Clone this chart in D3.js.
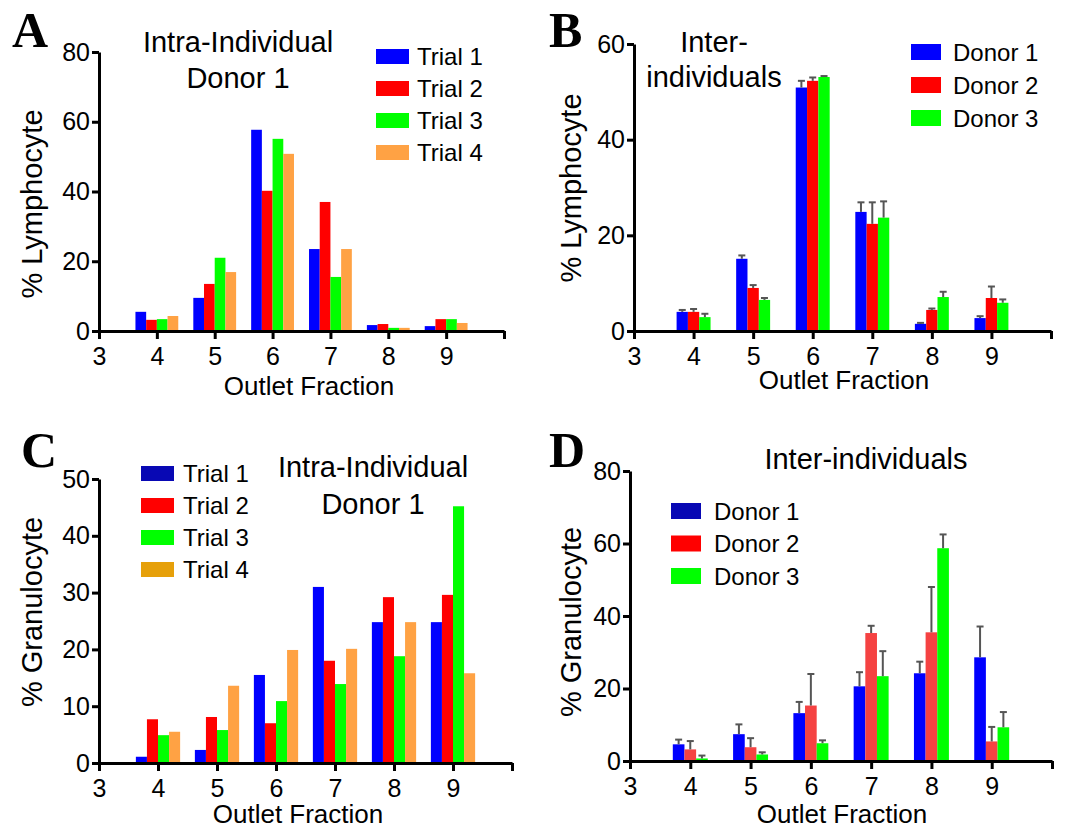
<!DOCTYPE html>
<html>
<head>
<meta charset="utf-8">
<script src="https://cdn.jsdelivr.net/npm/d3@7"></script>
<style>
  html, body { margin: 0; padding: 0; background: #ffffff; }
  svg { display: block; font-family: "Liberation Sans", Arial, Helvetica, sans-serif; }
</style>
</head>
<body>
<svg id="chart" width="1078" height="828"></svg>
<script>
// ---------- data ----------
const fractions = [4, 5, 6, 7, 8, 9];
const xTicks = [3, 4, 5, 6, 7, 8, 9, 10];
const trialNames = ["Trial 1", "Trial 2", "Trial 3", "Trial 4"];
const donorNames = ["Donor 1", "Donor 2", "Donor 3"];

// A: lymphocyte, intra-individual (donor 1), four trials
const lymphTrial1 = [5.5, 9.5, 57.7, 23.5, 1.7, 1.4];
const lymphTrial2 = [3.2, 13.5, 40.2, 37.0, 2.0, 3.4];
const lymphTrial3 = [3.4, 21.0, 55.1, 15.5, 0.9, 3.4];
const lymphTrial4 = [4.3, 16.9, 50.8, 23.5, 0.9, 2.3];

// B: lymphocyte, inter-individual, three donors (mean, error)
const lymphDonor1 = [4.0, 15.1, 50.9, 24.9, 1.5, 2.7];
const lymphDonor1Err = [0.4, 0.7, 1.4, 2.0, 0.2, 0.4];
const lymphDonor2 = [4.0, 9.0, 52.3, 22.4, 4.4, 6.9];
const lymphDonor2Err = [0.6, 0.6, 0.7, 4.5, 0.3, 2.4];
const lymphDonor3 = [2.9, 6.5, 53.1, 23.7, 7.1, 5.9];
const lymphDonor3Err = [0.7, 0.4, 0.2, 3.4, 1.1, 0.7];

// C: granulocyte, intra-individual (donor 1), four trials
const granTrial1 = [1.1, 2.3, 15.5, 31.0, 24.8, 24.8];
const granTrial2 = [7.7, 8.1, 7.0, 18.0, 29.2, 29.6];
const granTrial3 = [4.9, 5.8, 10.9, 13.9, 18.8, 45.2];
const granTrial4 = [5.5, 13.6, 19.9, 20.1, 24.8, 15.8];

// D: granulocyte, inter-individual, three donors (mean, error)
const granDonor1 = [4.6, 7.4, 13.2, 20.6, 24.2, 28.6];
const granDonor1Err = [1.3, 2.7, 3.1, 3.9, 3.2, 8.5];
const granDonor2 = [3.2, 3.8, 15.3, 35.3, 35.5, 5.4];
const granDonor2Err = [2.3, 2.5, 8.7, 2.0, 12.5, 4.0];
const granDonor3 = [0.7, 1.8, 4.9, 23.4, 58.7, 9.3];
const granDonor3Err = [0.8, 0.6, 0.8, 6.9, 3.8, 4.2];

const yTicksA = [0, 20, 40, 60, 80];
const yTicksB = [0, 20, 40, 60];
const yTicksC = [0, 10, 20, 30, 40, 50];
const yTicksD = [0, 20, 40, 60, 80];

// ---------- drawing ----------
const svg = d3.select("#chart");
const FONT = '"Liberation Sans", Arial, Helvetica, sans-serif';
const SERIF = '"Liberation Serif", "Times New Roman", Times, serif';

function drawPanel(cfg) {
  const g = svg.append("g");
  const x = d3.scaleLinear().domain([3, 10]).range([cfg.x0, cfg.x1]);
  const y = d3.scaleLinear().domain([0, cfg.yMax]).range([cfg.y0, cfg.yTop]);
  const n = cfg.series.length;
  const unit = x(1) - x(0);
  const sub = d3.scaleBand().domain(d3.range(n))
    .range([-cfg.groupWidth * unit / 2, cfg.groupWidth * unit / 2]).padding(0);
  const bw = sub.bandwidth();

  cfg.series.forEach((s, i) => {
    const sg = g.append("g");
    sg.selectAll("rect").data(s.values).join("rect")
      .attr("x", (d, j) => x(fractions[j]) + sub(i))
      .attr("width", bw)
      .attr("y", d => y(d))
      .attr("height", d => y(0) - y(d))
      .attr("fill", s.color);
    if (s.err) {
      const eg = g.append("g").attr("stroke", "#555").attr("stroke-width", 2);
      s.values.forEach((v, j) => {
        const cx = x(fractions[j]) + sub(i) + bw / 2;
        eg.append("line").attr("x1", cx).attr("x2", cx)
          .attr("y1", y(v)).attr("y2", y(v + s.err[j]));
        eg.append("line").attr("x1", cx - 3.5).attr("x2", cx + 3.5)
          .attr("y1", y(v + s.err[j])).attr("y2", y(v + s.err[j]));
      });
    }
  });

  // axes
  const xa = g.append("g").attr("transform", `translate(0,${cfg.y0})`)
    .call(d3.axisBottom(x).tickValues(xTicks)
      .tickFormat(d => d === 10 ? "" : d3.format("d")(d))
      .tickSize(8).tickPadding(8).tickSizeOuter(0));
  const ya = g.append("g").attr("transform", `translate(${cfg.x0},0)`)
    .call(d3.axisLeft(y).tickValues(cfg.yTicks)
      .tickSize(7).tickPadding(2).tickSizeOuter(0));
  [xa, ya].forEach(a => {
    a.attr("font-family", FONT).attr("font-size", 25);
    a.select(".domain").attr("stroke", "#000").attr("stroke-width", 3);
    a.selectAll(".tick line").attr("stroke", "#000").attr("stroke-width", 3);
    a.selectAll(".tick text").attr("fill", "#000");
  });

  // axis titles
  g.append("text").attr("x", cfg.xLabelX).attr("y", cfg.xLabelY)
    .attr("text-anchor", "middle").attr("font-size", 26).text("Outlet Fraction");
  g.append("text")
    .attr("transform", `translate(${cfg.yLabelX},${cfg.yLabelY}) rotate(-90)`)
    .attr("text-anchor", "middle").attr("font-size", 29).text(cfg.yLabel);

  // panel title
  cfg.title.forEach((t, k) => {
    g.append("text").attr("x", cfg.titleX).attr("y", cfg.titleY[k])
      .attr("text-anchor", "middle").attr("font-size", 29).text(t);
  });

  // panel letter
  g.append("text").attr("x", cfg.letterX).attr("y", cfg.letterY)
    .style("font-family", SERIF)
    .attr("font-weight", "bold").attr("font-size", 50).text(cfg.letter);

  // legend
  const lg = g.append("g");
  cfg.series.forEach((s, i) => {
    const ty = cfg.legY + i * cfg.legStep;
    lg.append("rect").attr("x", cfg.legX).attr("y", ty)
      .attr("width", cfg.swW).attr("height", cfg.swH)
      .attr("fill", s.legendColor || s.color);
    lg.append("text").attr("x", cfg.legX + cfg.swW + cfg.legGap).attr("y", ty + cfg.swH / 2 + 8.5)
      .attr("font-size", 24).text(s.name);
  });
}

const BLUE = "#0000ff", RED = "#ff0000", GREEN = "#00ff00", ORANGE = "#ffa244";

drawPanel({
  letter: "A", letterX: 12, letterY: 47,
  x0: 99, x1: 504, y0: 331, yTop: 52, yMax: 80, yTicks: yTicksA,
  groupWidth: 0.74,
  series: [
    { name: trialNames[0], values: lymphTrial1, color: BLUE },
    { name: trialNames[1], values: lymphTrial2, color: RED },
    { name: trialNames[2], values: lymphTrial3, color: GREEN },
    { name: trialNames[3], values: lymphTrial4, color: ORANGE }
  ],
  yLabel: "% Lymphocyte", yLabelX: 42, yLabelY: 204,
  xLabelX: 309, xLabelY: 395,
  title: ["Intra-Individual", "Donor 1"], titleX: 238, titleY: [52, 88],
  legX: 376, legY: 49, legStep: 32, swW: 33, swH: 15, legGap: 8
});

drawPanel({
  letter: "B", letterX: 549, letterY: 47,
  x0: 634, x1: 1051, y0: 331, yTop: 44, yMax: 60, yTicks: yTicksB,
  groupWidth: 0.57,
  series: [
    { name: donorNames[0], values: lymphDonor1, err: lymphDonor1Err, color: BLUE },
    { name: donorNames[1], values: lymphDonor2, err: lymphDonor2Err, color: RED },
    { name: donorNames[2], values: lymphDonor3, err: lymphDonor3Err, color: GREEN }
  ],
  yLabel: "% Lymphocyte", yLabelX: 581, yLabelY: 188,
  xLabelX: 844, xLabelY: 389,
  title: ["Inter-", "individuals"], titleX: 714, titleY: [52, 87],
  legX: 911, legY: 44, legStep: 33, swW: 30, swH: 16, legGap: 12
});

drawPanel({
  letter: "C", letterX: 21, letterY: 467,
  x0: 99, x1: 512, y0: 763, yTop: 479, yMax: 50, yTicks: yTicksC,
  groupWidth: 0.75,
  series: [
    { name: trialNames[0], values: granTrial1, color: BLUE, legendColor: "#0808b4" },
    { name: trialNames[1], values: granTrial2, color: RED },
    { name: trialNames[2], values: granTrial3, color: GREEN },
    { name: trialNames[3], values: granTrial4, color: ORANGE, legendColor: "#e6a00a" }
  ],
  yLabel: "% Granulocyte", yLabelX: 42, yLabelY: 612,
  xLabelX: 298, xLabelY: 823,
  title: ["Intra-Individual", "Donor 1"], titleX: 373, titleY: [477, 514],
  legX: 141, legY: 466, legStep: 32, swW: 33, swH: 15, legGap: 9
});

drawPanel({
  letter: "D", letterX: 549, letterY: 467,
  x0: 630, x1: 1052, y0: 761, yTop: 471, yMax: 80, yTicks: yTicksD,
  groupWidth: 0.58,
  series: [
    { name: donorNames[0], values: granDonor1, err: granDonor1Err, color: BLUE, legendColor: "#0808b4" },
    { name: donorNames[1], values: granDonor2, err: granDonor2Err, color: "#f54242", legendColor: RED },
    { name: donorNames[2], values: granDonor3, err: granDonor3Err, color: GREEN }
  ],
  yLabel: "% Granulocyte", yLabelX: 581, yLabelY: 622,
  xLabelX: 842, xLabelY: 823,
  title: ["Inter-individuals"], titleX: 866, titleY: [469],
  legX: 671, legY: 503, legStep: 32.5, swW: 30, swH: 16, legGap: 13
});
</script>
</body>
</html>
